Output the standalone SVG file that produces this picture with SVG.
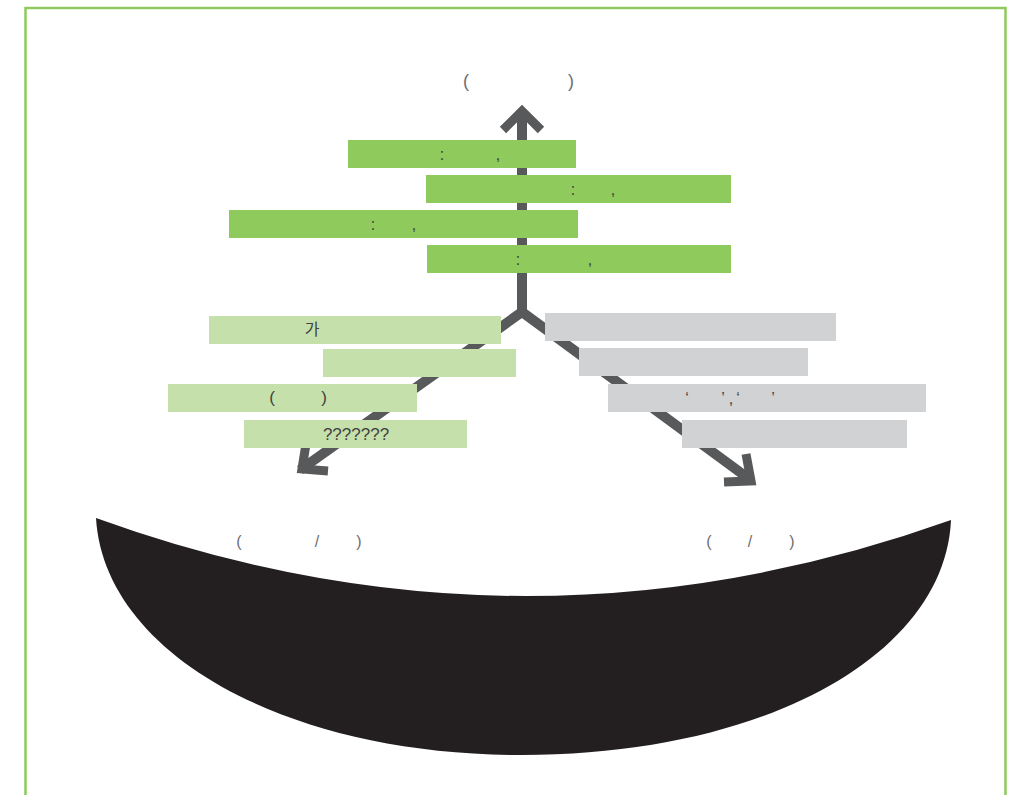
<svg xmlns="http://www.w3.org/2000/svg" width="1018" height="795" viewBox="0 0 1018 795">
<style>
.frame{fill:#ffffff;stroke:#8fca5c;stroke-width:2.5}
.dk{fill:#8fca5c}
.lt{fill:#c5e0aa}
.gr{fill:#d1d2d4}
.t{font-family:"Liberation Sans","Noto Sans CJK KR",sans-serif;font-size:16px;fill:#414042;text-anchor:middle}
.lbl{font-family:"Liberation Sans","Noto Sans CJK KR",sans-serif;font-size:16px;fill:#6d6e71;text-anchor:middle}
.shaft{fill:none;stroke:#58595b;stroke-width:10;stroke-linejoin:miter;stroke-miterlimit:10}
.head{fill:none;stroke:#58595b;stroke-width:9;stroke-linejoin:miter;stroke-miterlimit:10}
</style>
<rect class="frame" x="25.5" y="8" width="980" height="800"/>
<g id="bowl">
<path d="M96,518 Q523,673 951,520 C945,655 765,755 522,755 C282,755 104,652 96,518 Z" fill="#231f20"/>
</g>
<g id="connectors">
<path class="shaft" d="M522,112 V312"/>
<path class="shaft" d="M300,470 L522,312 L752,481"/>
<polyline class="head" points="503,130 522,111 541,130"/>
<polyline class="head" points="306,444 302,469 328,471"/>
<polyline class="head" points="746,454 751,481 724,482"/>
</g>
<g id="label-top">
<text class="lbl" y="87" style="font-size:18px"><tspan x="466">(</tspan><tspan x="571">)</tspan></text>
</g>
<g id="bar-g1"><rect class="dk" x="348" y="140" width="228" height="28"/><text class="t" y="160"><tspan x="442">:</tspan><tspan x="498">,</tspan></text></g>
<g id="bar-g2"><rect class="dk" x="426" y="175" width="305" height="28"/><text class="t" y="195"><tspan x="573">:</tspan><tspan x="613">,</tspan></text></g>
<g id="bar-g3"><rect class="dk" x="229" y="210" width="349" height="28"/><text class="t" y="230"><tspan x="373">:</tspan><tspan x="414">,</tspan></text></g>
<g id="bar-g4"><rect class="dk" x="427" y="245" width="304" height="28"/><text class="t" y="265"><tspan x="518">:</tspan><tspan x="590">,</tspan></text></g>
<g id="bar-l1"><rect class="lt" x="209" y="316" width="292" height="28"/><text class="t" x="312" y="335">가</text></g>
<g id="bar-l2"><rect class="lt" x="323" y="349" width="193" height="28"/></g>
<g id="bar-l3"><rect class="lt" x="168" y="384" width="249" height="28"/><text class="t" y="403" style="font-size:17px"><tspan x="272">(</tspan><tspan x="324">)</tspan></text></g>
<g id="bar-l4"><rect class="lt" x="244" y="420" width="223" height="28"/><text class="t" x="356" y="440" style="font-size:17px">???????</text></g>
<g id="bar-r1"><rect class="gr" x="545" y="313" width="291" height="28"/></g>
<g id="bar-r2"><rect class="gr" x="579" y="348" width="229" height="28"/></g>
<g id="bar-r3"><rect class="gr" x="608" y="384" width="318" height="28"/><text class="t" y="404"><tspan x="687">‘</tspan><tspan x="723">’</tspan><tspan x="731">,</tspan><tspan x="738">‘</tspan><tspan x="773">’</tspan></text></g>
<g id="bar-r4"><rect class="gr" x="682" y="420" width="225" height="28"/></g>
<g id="label-left"><text class="lbl" y="547"><tspan x="239">(</tspan><tspan x="317">/</tspan><tspan x="359">)</tspan></text></g>
<g id="label-right"><text class="lbl" y="547"><tspan x="709">(</tspan><tspan x="750">/</tspan><tspan x="792">)</tspan></text></g>
</svg>
